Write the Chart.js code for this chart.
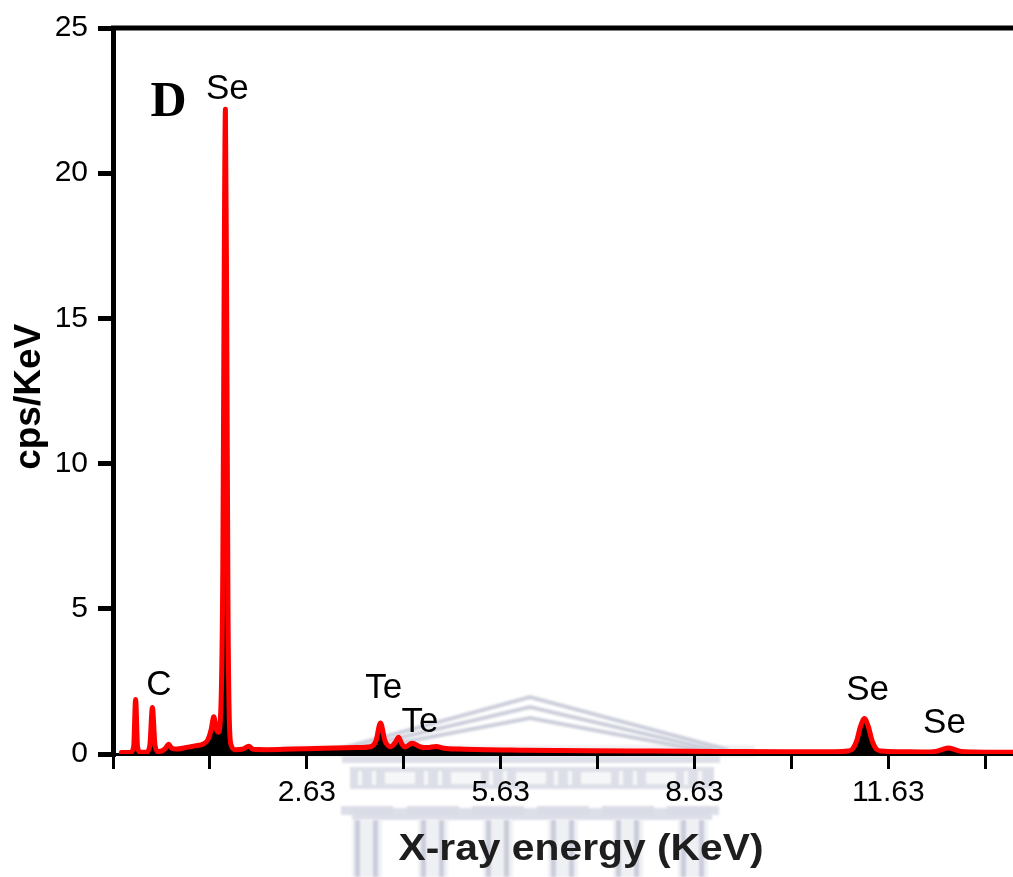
<!DOCTYPE html>
<html>
<head>
<meta charset="utf-8">
<title>EDS spectrum D</title>
<script src="https://cdn.jsdelivr.net/npm/chart.js@4.4.1/dist/chart.umd.min.js"></script>
<style>
  html, body { margin: 0; padding: 0; background: #fff; }
  #wrap { position: relative; width: 1013px; height: 877px; }
</style>
</head>
<body>
<div id="wrap"><canvas id="edsChart"></canvas></div>
<script>
// ── Spectrum (energy in keV, counts in cps/keV) ─────────────
const ENERGY = [
  -0.24, -0.10, -0.05, -0.02, 0.01, 0.05,
  0.15, 0.20, 0.24, 0.28, 0.33,
  0.40, 0.45, 0.49, 0.54, 0.62,
  0.75, 0.90, 1.03, 1.10, 1.15, 1.19, 1.23, 1.26,
  1.30, 1.33, 1.35, 1.37, 1.39, 1.41, 1.43, 1.46, 1.52,
  1.65, 1.73, 1.80, 2.00, 2.40, 2.90, 3.40,
  3.62, 3.70, 3.77, 3.84, 3.93, 4.00, 4.05, 4.10, 4.15, 4.26, 4.39, 4.50, 4.63, 4.75,
  5.00, 6.00, 7.00, 8.00, 9.00, 10.00, 10.80,
  11.00, 11.08, 11.14, 11.20, 11.26, 11.32, 11.38, 11.44, 11.52,
  11.80, 12.20, 12.36, 12.46, 12.56, 12.66, 12.76, 12.95, 13.30, 13.56
];
const COUNTS = [
  0.05, 0.05, 0.25, 1.88, 0.25, 0.06,
  0.07, 0.30, 1.60, 0.30, 0.08,
  0.12, 0.22, 0.34, 0.20, 0.17,
  0.22, 0.28, 0.35, 0.50, 0.85, 1.28, 0.85, 0.75,
  1.60, 6.50, 16.0, 22.2, 15.0, 5.00, 1.20, 0.30, 0.15,
  0.18, 0.27, 0.16, 0.15, 0.17, 0.20, 0.22,
  0.25, 0.45, 1.07, 0.45, 0.25, 0.40, 0.58, 0.35, 0.24, 0.37, 0.24, 0.22, 0.26, 0.20,
  0.17, 0.13, 0.11, 0.10, 0.09, 0.08, 0.08,
  0.10, 0.18, 0.45, 0.95, 1.22, 0.95, 0.45, 0.18, 0.10,
  0.08, 0.07, 0.09, 0.15, 0.21, 0.15, 0.09, 0.07, 0.06, 0.06
];

// ── Axes ────────────────────────────────────────────────────
const X_MIN = -0.37, X_MAX = 13.56;
const X_TICKS = [-0.37, 1.13, 2.63, 4.13, 5.63, 7.13, 8.63, 10.13, 11.63, 13.13];
const X_LABELS = ["", "", "2.63", "", "5.63", "", "8.63", "", "11.63", ""];
const Y_MIN = 0, Y_MAX = 25, Y_STEP = 5;

// ── Peak labels (placed in data units) ──────────────────────
const PEAK_TEXT = ["Se", "C", "Te", "Te", "Se", "Se"];
const PEAK_X    = [1.40, 0.34, 3.82, 4.38, 11.31, 12.50];
const PEAK_Y    = [22.57, 2.02, 1.92, 0.75, 1.85, 0.72];
const PANEL_TAG = "D";
const PANEL_X = 0.49, PANEL_Y = 21.98;

const SANS = "'Liberation Sans', Arial, Helvetica, sans-serif";
const SERIF = "'Liberation Serif', 'Times New Roman', serif";

/* ── Faint crest in the background ─────────────────────────*/
function drawCrest(ctx) {
  ctx.save();
  ctx.filter = "blur(1px)";
  ctx.globalAlpha = 0.9;
  const light = "#eceef2", mid = "#d9dce5", dark = "#c6cad7";
  // plinth under the roof
  ctx.fillStyle = "#f0f0f3";
  ctx.fillRect(280, 745, 475, 12);
  ctx.fillStyle = mid;
  ctx.fillRect(342, 756, 378, 7);

  // roof lines
  ctx.strokeStyle = dark;
  ctx.lineWidth = 4;
  ctx.lineJoin = "miter";
  [[697, 336, 728], [707, 348, 714], [718, 362, 700]].forEach(([apex, l, r]) => {
    ctx.beginPath();
    ctx.moveTo(l, 750);
    ctx.lineTo(530, apex);
    ctx.lineTo(r, 750);
    ctx.stroke();
  });

  const cols = [367, 433, 498, 563, 628, 693];

  // frieze
  ctx.fillStyle = mid;
  ctx.fillRect(350, 767, 364, 22);
  ctx.fillStyle = "#fafafb";
  cols.forEach((c, i) => {
    ctx.fillRect(c - 9, 771, 4, 14);
    ctx.fillRect(c + 5, 771, 4, 14);
    if (i < cols.length - 1) ctx.fillRect(c + 18, 772, 30, 12);
  });

  // capitals
  ctx.fillStyle = mid;
  ctx.fillRect(352, 808, 360, 12);
  cols.forEach(c => ctx.fillRect(c - 26, 806, 52, 9));

  // columns
  cols.forEach(c => {
    ctx.fillStyle = light;
    ctx.fillRect(c - 15, 820, 30, 57);
    ctx.fillStyle = dark;
    ctx.fillRect(c - 12, 820, 5, 57);
    ctx.fillRect(c + 6, 820, 5, 57);
  });
  ctx.restore();
}

/* ── Plugin: crest, frame top, titles, peak labels ─────────*/
const decorPlugin = {
  id: "decor",
  beforeDraw(chart) {
    drawCrest(chart.ctx);
  },
  afterDraw(chart) {
    const { ctx, chartArea, scales } = chart;
    ctx.save();

    // top frame line
    ctx.strokeStyle = "#000";
    ctx.lineWidth = 5;
    ctx.beginPath();
    ctx.moveTo(chartArea.left - 2, chartArea.top);
    ctx.lineTo(chartArea.right, chartArea.top);
    ctx.stroke();

    // y title
    ctx.fillStyle = "#000";
    ctx.font = `bold 37px ${SANS}`;
    ctx.textAlign = "center";
    ctx.textBaseline = "alphabetic";
    ctx.save();
    ctx.translate(40, scales.y.getPixelForValue(12.3));
    ctx.rotate(-Math.PI / 2);
    ctx.fillText("cps/KeV", 0, 0);
    ctx.restore();

    // x title, stretched to the axis caption width
    ctx.save();
    ctx.font = `bold 36px ${SANS}`;
    ctx.fillStyle = "#1e1e1e";
    const xt = "X-ray energy (KeV)";
    const w = ctx.measureText(xt).width;
    ctx.translate(581, 860);
    ctx.scale(365 / w, 1);
    ctx.fillText(xt, 0, 0);
    ctx.restore();

    // peak labels
    ctx.font = `35px ${SANS}`;
    ctx.fillStyle = "#000";
    PEAK_TEXT.forEach((t, i) => {
      ctx.fillText(t, scales.x.getPixelForValue(PEAK_X[i]), scales.y.getPixelForValue(PEAK_Y[i]));
    });

    // panel tag
    ctx.font = `bold 50px ${SERIF}`;
    ctx.fillText(PANEL_TAG, scales.x.getPixelForValue(PANEL_X), scales.y.getPixelForValue(PANEL_Y));
    ctx.restore();
  }
};

new Chart(document.getElementById("edsChart"), {
  type: "line",
  data: {
    datasets: [{
      label: "EDS",
      data: ENERGY.map((e, i) => ({ x: e, y: COUNTS[i] })),
      borderColor: "#ff0000",
      borderWidth: 5,
      backgroundColor: "#000000",
      fill: "origin",
      pointRadius: 0,
      cubicInterpolationMode: "monotone",
      borderJoinStyle: "round",
      borderCapStyle: "round"
    }]
  },
  options: {
    responsive: true,
    maintainAspectRatio: false,
    animation: false,
    layout: { padding: { top: 24, right: 0, left: 0, bottom: 0 } },
    plugins: { legend: { display: false }, tooltip: { enabled: false } },
    scales: {
      x: {
        type: "linear",
        min: X_MIN, max: X_MAX,
        afterBuildTicks: s => { s.ticks = X_TICKS.map(v => ({ value: v })); },
        afterFit: s => { s.height = 123; },
        ticks: {
          autoSkip: false, maxRotation: 0, padding: 6, color: "#000",
          font: { size: 30, family: SANS },
          callback: (v, i) => X_LABELS[i]
        },
        grid: { drawOnChartArea: false, drawTicks: true, tickLength: 15, lineWidth: 3, color: "#000" },
        border: { display: true, color: "#000", width: 3 }
      },
      y: {
        min: Y_MIN, max: Y_MAX,
        afterFit: s => { s.width = 113; },
        ticks: {
          stepSize: Y_STEP, padding: 10, color: "#000",
          font: { size: 30, family: SANS }
        },
        grid: { drawOnChartArea: false, drawTicks: true, tickLength: 15, lineWidth: 5, color: "#000" },
        border: { display: true, color: "#000", width: 5 }
      }
    }
  },
  plugins: [decorPlugin]
});
</script>
</body>
</html>
